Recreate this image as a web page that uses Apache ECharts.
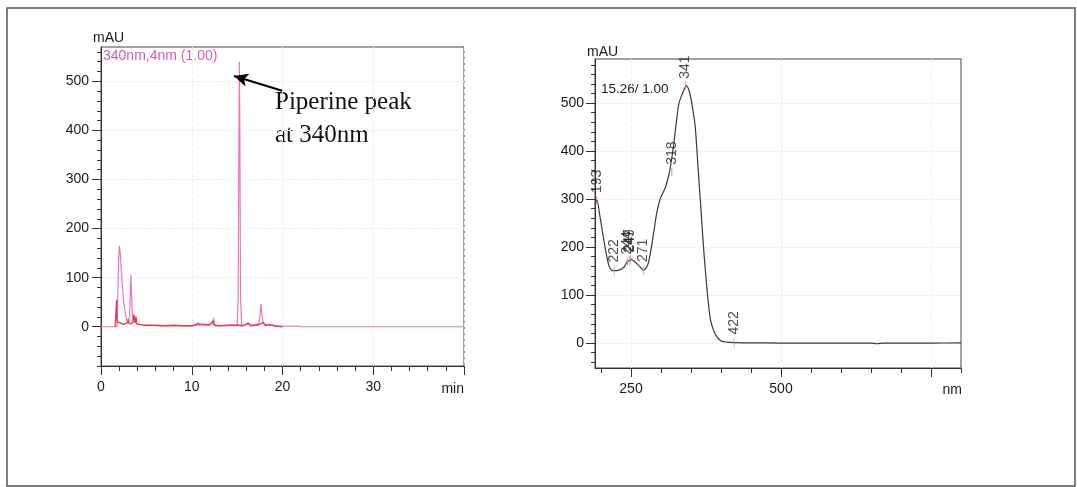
<!DOCTYPE html>
<html>
<head>
<meta charset="utf-8">
<script src="https://cdn.jsdelivr.net/npm/echarts@6/dist/echarts.min.js"></script>
<style>
  html, body { margin: 0; padding: 0; background: #fff; }
  #chart { width: 1077px; height: 487px; }
</style>
</head>
<body>
<div id="chart"></div>
<script>
// ---------- Left chromatogram (340nm,4nm) ----------
const chromTime = [0, 1.75, 1.85, 1.95, 2.03, 2.12, 2.25, 2.4, 2.55, 2.75, 2.95, 3.15, 3.23, 3.3, 3.37, 3.48, 3.65, 4.0, 4.5, 5, 6, 8, 10, 10.6, 10.68, 10.76, 11.8, 12.3, 12.4, 12.5, 13, 14.3, 14.4, 14.5, 15.0, 15.12, 15.2, 15.25, 15.3, 15.38, 15.5, 15.9, 16.2, 16.35, 17.4, 17.55, 17.62, 17.7, 17.85, 18.1, 18.55, 18.7, 19.6, 21.6, 22, 40];
const chromAbs  = [0, 0, 60, 140, 165, 150, 110, 72, 42, 20, 10, 20, 70, 106, 60, 18, 10, 6, 4, 3, 2, 2, 2, 3, 9, 3, 3, 4, 18, 4, 2, 2, 5, 2, 2, 60, 400, 540, 400, 60, 3, 4, 8, 3, 3, 30, 46, 30, 8, 3, 5, 2, 1, 1.5, 0, 0];
const chrom2Time = [1.55, 1.65, 1.72, 1.78, 1.9, 2.5, 2.9, 3.0, 3.1, 3.5, 3.62, 3.7, 3.78, 3.85, 3.95, 4.5, 5, 6, 7, 8, 9, 10, 10.7, 10.8, 11.9, 12.0, 12.4, 12.5, 13, 14.4, 14.6, 15.2, 15.6, 16.0, 16.3, 16.5, 17.6, 17.9, 18.1, 18.7, 19, 20];
const chrom2Abs  = [0, 30, 55, 10, 6, 5, 8, 15, 6, 8, 25, 22, 8, 20, 6, 4, 3, 3, 2, 3, 2, 2, 6, 2, 4, 2, 12, 3, 2, 4, 2, 3, 2, 5, 7, 2, 6, 9, 3, 4, 2, 0];
const leftXMajor = [0, 10, 20, 30, 40];
const leftXLabels = [0, 10, 20, 30];
const leftXMinor = [0, 2, 4, 6, 8, 10, 12, 14, 16, 18, 20, 22, 24, 26, 28, 30, 32, 34, 36, 38, 40];
const leftYLabels = [0, 100, 200, 300, 400, 500];
const leftYMinor = [-80, -60, -40, -20, 0, 20, 40, 60, 80, 100, 120, 140, 160, 180, 200, 220, 240, 260, 280, 300, 320, 340, 360, 380, 400, 420, 440, 460, 480, 500, 520, 540, 560];
const arrowTail = [19.96, 481];
const arrowHead = [14.66, 511];

// ---------- Right UV spectrum (15.26 min) ----------
const specNm  = [190, 193, 198, 204, 210, 215, 221, 226, 232, 238, 243, 247, 251, 256, 262, 267, 271, 275, 279, 284, 289, 293, 298, 302, 307, 312, 316, 321, 326, 330, 335, 339, 342, 345, 348, 352, 357, 362, 366, 370, 374, 378, 382, 386, 390, 395, 401, 410, 422, 450, 500, 550, 600, 650, 660, 670, 700, 750, 800];
const specAbs = [288, 298, 266, 220, 178, 156, 151, 151, 153, 158, 168, 172, 174, 170, 163, 156, 152, 156, 167, 200, 240, 272, 298, 310, 323, 345, 370, 412, 465, 500, 518, 530, 536, 532, 521, 495, 451, 361, 290, 215, 150, 95, 52, 32, 20, 10, 4, 2, 1, 0.5, 0, 0, 0, 0, -1.5, 0, 0, 0, 0.5];
const peakNm  = [193, 244, 249, 318, 341];
const peakAbs = [298, 170, 174, 357, 536];
const valleyNm  = [222, 247, 271, 422];
const valleyAbs = [151, 172, 152, 1];
const rightXMajor = [250, 500, 750];
const rightXLabels = [250, 500];
const rightXMinor = [200, 250, 300, 350, 400, 450, 500, 550, 600, 650, 700, 750, 800];
const rightYLabels = [0, 100, 200, 300, 400, 500];
const rightYMinor = [-40, -20, 0, 20, 40, 60, 80, 100, 120, 140, 160, 180, 200, 220, 240, 260, 280, 300, 320, 340, 360, 380, 400, 420, 440, 460, 480, 500, 520, 540, 560, 580];

const zip = (a, b) => a.map((v, i) => [v, b[i]]);

const FONT = '"Liberation Sans", Arial, sans-serif';
const SERIF = '"Liberation Serif", "Times New Roman", serif';
const AX = '#333';
const GRIDC = '#ededed';

function majorX(gridIndex, min, max, ticks, labels) {
  return {
    type: 'value', gridIndex, min, max, position: 'bottom',
    axisLine: { show: true, onZero: false, lineStyle: { color: AX, width: 1 } },
    axisTick: { show: true, customValues: ticks, length: 9, lineStyle: { color: AX } },
    axisLabel: { show: true, customValues: labels, margin: 14, fontFamily: FONT, fontSize: 14, color: '#1a1a1a' },
    splitLine: { show: true, lineStyle: { color: GRIDC, type: 'dashed' } }
  };
}
function minorX(gridIndex, min, max, ticks) {
  return {
    type: 'value', gridIndex, min, max, position: 'bottom',
    axisLine: { show: false, onZero: false },
    axisTick: { show: true, customValues: ticks, length: 5, lineStyle: { color: AX } },
    axisLabel: { show: false },
    splitLine: { show: false }
  };
}
function majorY(gridIndex, min, max, ticks, margin) {
  return {
    type: 'value', gridIndex, min, max, position: 'left',
    axisLine: { show: true, onZero: false, lineStyle: { color: AX, width: 1 } },
    axisTick: { show: true, customValues: ticks, length: 9, lineStyle: { color: AX } },
    axisLabel: { show: true, customValues: ticks, margin: margin, fontFamily: FONT, fontSize: 14, color: '#1a1a1a' },
    splitLine: { show: true, lineStyle: { color: GRIDC, type: 'dashed' } }
  };
}
function minorY(gridIndex, min, max, ticks) {
  return {
    type: 'value', gridIndex, min, max, position: 'left',
    axisLine: { show: false, onZero: false },
    axisTick: { show: true, customValues: ticks, length: 4, lineStyle: { color: AX } },
    axisLabel: { show: false },
    splitLine: { show: false }
  };
}

const chart = echarts.init(document.getElementById('chart'), null, { renderer: 'canvas' });

const rotLabel = {
  show: true, position: 'top', distance: 3, rotate: 90, align: 'left', verticalAlign: 'middle',
  fontFamily: FONT, fontSize: 14, color: '#222',
  formatter: p => String(p.value[0])
};

chart.setOption({
  animation: false,
  backgroundColor: '#fff',
  grid: [
    { left: 101, top: 47, width: 363, height: 319, show: true, borderColor: '#444', borderWidth: 1, backgroundColor: 'transparent' },
    { left: 595, top: 59, width: 366, height: 309, show: true, borderColor: '#444', borderWidth: 1, backgroundColor: 'transparent' }
  ],
  xAxis: [
    majorX(0, 0, 40, leftXMajor, leftXLabels),
    minorX(0, 0, 40, leftXMinor),
    majorX(1, 190, 800, rightXMajor, rightXLabels),
    minorX(1, 190, 800, rightXMinor)
  ],
  yAxis: [
    majorY(0, -80, 570, leftYLabels, 12),
    minorY(0, -80, 570, leftYMinor),
    majorY(1, -52, 592, rightYLabels, 11),
    minorY(1, -52, 592, rightYMinor)
  ],
  series: [
    {
      type: 'line', xAxisIndex: 0, yAxisIndex: 0, data: zip(chromTime, chromAbs),
      symbol: 'none', lineStyle: { color: '#e57ab9', width: 1.2 }, z: 3,
      markLine: {
        silent: true, symbol: ['none', 'arrow'], symbolSize: [10, 14],
        lineStyle: { color: '#000', width: 2, type: 'solid' },
        label: { show: false },
        data: [[{ coord: arrowTail }, { coord: arrowHead }]]
      }
    },
    {
      type: 'line', xAxisIndex: 0, yAxisIndex: 0, data: zip(chrom2Time, chrom2Abs),
      symbol: 'none', lineStyle: { color: '#e2384f', width: 1.3 }, z: 4
    },
    {
      type: 'line', xAxisIndex: 2, yAxisIndex: 2, data: zip(specNm, specAbs),
      symbol: 'none', smooth: 0.3, lineStyle: { color: '#3a3a3a', width: 1.2 }, z: 3
    },
    {
      type: 'scatter', xAxisIndex: 2, yAxisIndex: 2, data: zip(peakNm, peakAbs),
      symbol: 'rect', symbolSize: [1, 8], itemStyle: { color: '#e0708e' }, z: 4,
      label: rotLabel
    },
    {
      type: 'scatter', xAxisIndex: 2, yAxisIndex: 2, data: zip(valleyNm, valleyAbs),
      symbol: 'rect', symbolSize: [1, 10], itemStyle: { color: '#8fb6d6' }, z: 4,
      label: rotLabel
    }
  ],
  graphic: [
    { type: 'rect', shape: { x: 7, y: 8, width: 1068, height: 478 }, style: { fill: 'none', stroke: '#555', lineWidth: 1.5 }, z: 10 },
    { type: 'text', x: 93, y: 38, style: { text: 'mAU', fontFamily: FONT, fontSize: 14, fill: '#1a1a1a', align: 'left', verticalAlign: 'middle' } },
    { type: 'text', x: 103, y: 56, style: { text: '340nm,4nm (1.00)', fontFamily: FONT, fontSize: 14, fill: '#d65cb3', align: 'left', verticalAlign: 'middle' } },
    { type: 'text', x: 464, y: 389, style: { text: 'min', fontFamily: FONT, fontSize: 14, fill: '#1a1a1a', align: 'right', verticalAlign: 'middle' } },
    { type: 'text', x: 275, y: 102, style: { text: 'Piperine peak', fontFamily: SERIF, fontSize: 25, fill: '#111', align: 'left', verticalAlign: 'middle' } },
    { type: 'text', x: 275, y: 135, style: { text: 'at 340nm', fontFamily: SERIF, fontSize: 25, fill: '#111', align: 'left', verticalAlign: 'middle' } },
    { type: 'text', x: 587, y: 52, style: { text: 'mAU', fontFamily: FONT, fontSize: 14, fill: '#1a1a1a', align: 'left', verticalAlign: 'middle' } },
    { type: 'text', x: 601, y: 89, style: { text: '15.26/ 1.00', fontFamily: FONT, fontSize: 13.5, fill: '#1a1a1a', align: 'left', verticalAlign: 'middle' } },
    { type: 'text', x: 962, y: 390, style: { text: 'nm', fontFamily: FONT, fontSize: 14, fill: '#1a1a1a', align: 'right', verticalAlign: 'middle' } }
  ]
});
</script>
</body>
</html>
